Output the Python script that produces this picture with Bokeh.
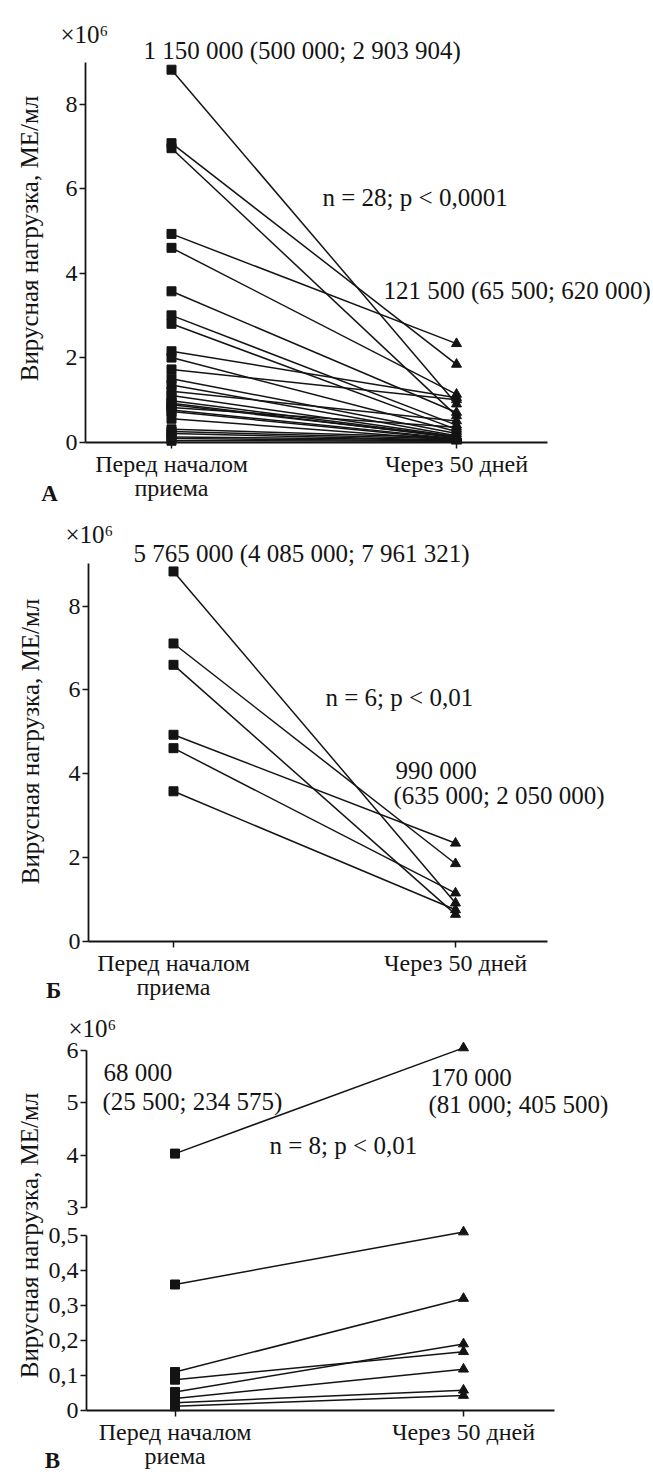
import math
from bokeh.plotting import figure
from bokeh.layouts import column
from bokeh.models import Label, FixedTicker, Range1d, CustomJSTickFormatter, LinearAxis
from bokeh.embed import file_html
from bokeh.resources import INLINE

FONT = "Liberation Serif"

# ---------------- data ----------------
cat_labels = ["Перед началом\nприема", "Через 50 дней"]
cat_labels_v = ["Перед началом\nриема", "Через 50 дней"]
y_title = "Вирусная нагрузка, МЕ/мл"
scale_note = "×10⁶"

# Panel А (n = 28), values x10^6 МЕ/мл
a_before = [8.82, 7.08, 6.96, 4.93, 4.60, 3.57, 3.00, 2.80, 2.15, 2.00, 1.72, 1.50, 1.35, 1.20,
            1.10, 0.98, 0.92, 0.88, 0.82, 0.76, 0.72, 0.55, 0.30, 0.25, 0.20, 0.12, 0.08, 0.03]
a_after = [0.90, 1.84, 0.62, 2.33, 1.13, 0.70, 0.40, 0.30, 1.05, 0.25, 1.00, 0.20, 0.15, 0.50,
           0.13, 0.12, 0.10, 0.12, 0.35, 0.08, 0.06, 0.05, 0.10, 0.07, 0.04, 0.05, 0.03, 0.02]
a_texts = ["1 150 000 (500 000; 2 903 904)", "n = 28; p < 0,0001", "121 500 (65 500; 620 000)"]

# Panel Б (n = 6)
b_before = [8.83, 7.11, 6.60, 4.93, 4.61, 3.58]
b_after = [0.91, 1.85, 0.64, 2.34, 1.15, 0.75]
b_texts = ["5 765 000 (4 085 000; 7 961 321)", "n = 6; p < 0,01", "990 000", "(635 000; 2 050 000)"]

# Panel В (n = 8) – upper (broken axis, x10^6 3..6) and lower (0..0.5) parts
v_before_hi = [4.03]
v_after_hi = [6.05]
v_before_lo = [0.36, 0.11, 0.088, 0.053, 0.034, 0.022, 0.012]
v_after_lo = [0.51, 0.32, 0.168, 0.19, 0.118, 0.058, 0.043]
v_texts = ["68 000", "(25 500; 234 575)", "170 000", "(81 000; 405 500)", "n = 8; p < 0,01"]

W = 653
INK = "#141414"


def style_axis(ax):
    ax.axis_line_color = INK
    ax.axis_line_width = 1.8
    ax.major_tick_out = 6
    ax.major_tick_in = 0
    ax.major_tick_line_width = 1.5
    ax.major_tick_line_color = INK
    ax.minor_tick_out = 0
    ax.minor_tick_in = 0
    ax.major_label_text_font = FONT
    ax.major_label_text_font_size = "24px"
    ax.major_label_text_color = INK
    ax.major_label_standoff = 2


def make_fig(height, xr, yr, xleft, xright, ybounds, yticks, xlabels):
    p = figure(width=W, height=height, x_range=Range1d(*xr), y_range=Range1d(*yr),
               output_backend="svg", toolbar_location=None, min_border=0)
    p.outline_line_color = None
    p.grid.visible = False
    p.background_fill_color = "white"
    p.border_fill_color = "white"
    yax = p.yaxis[0]
    style_axis(yax)
    yax.fixed_location = xleft
    yax.bounds = ybounds
    yax.ticker = FixedTicker(ticks=yticks)
    xax = p.xaxis[0]
    style_axis(xax)
    xax.fixed_location = 0
    xax.bounds = (xleft, xright)
    xax.ticker = FixedTicker(ticks=[0, 1])
    xax.major_label_overrides = {0: xlabels[0], 1: xlabels[1]}
    xax.major_label_text_line_height = 0.92
    xax.major_label_standoff = 3
    return p


def draw_pairs(p, before, after, rng="default"):
    n = len(before)
    p.segment(x0=[0] * n, y0=before, x1=[1] * n, y1=after, line_color=INK, line_width=1.5,
              y_range_name=rng)
    p.scatter(x=[0] * n, y=before, marker="square", size=9, fill_color=INK, line_color=INK,
              y_range_name=rng)
    p.scatter(x=[1] * n, y=after, marker="triangle", size=10, fill_color=INK, line_color=INK,
              y_range_name=rng)


def lab(p, x, y, text, size="25px", align="left", bold=False, angle=0.0, rng="default"):
    p.add_layout(Label(x=x, y=y, text=text, text_font=FONT, text_font_size=size,
                       text_align=align, text_baseline="middle", text_color=INK,
                       text_font_style="bold" if bold else "normal", angle=angle,
                       y_range_name=rng))


# ---------------- Panel А ----------------
pA = make_fig(512, (-0.6, 1.6912), (-1.6702, 10.4596), -0.3018, 1.3182,
              (0, 8.99), [0, 2, 4, 6, 8], cat_labels)
draw_pairs(pA, a_before, a_after)
lab(pA, -0.4982, 4.821, y_title, align="center", angle=math.pi / 2)
lab(pA, -0.3895, 9.654, scale_note)
lab(pA, -0.0982, 9.275, a_texts[0])
lab(pA, 0.5298, 5.793, a_texts[1])
lab(pA, 0.7439, 3.589, a_texts[2])
lab(pA, -0.4281, -1.22, "А", size="23px", align="center", bold=True)

# ---------------- Panel Б ----------------
pB = make_fig(493, (-0.6135, 1.7021), (-1.5355, 10.2376), -0.3014, 1.3262,
              (0, 9.02), [0, 2, 4, 6, 8], cat_labels)
draw_pairs(pB, b_before, b_after)
lab(pB, -0.5071, 4.769, y_title, align="center", angle=math.pi / 2)
lab(pB, -0.383, 9.706, scale_note)
lab(pB, -0.1418, 9.258, b_texts[0])
lab(pB, 0.539, 5.82, b_texts[1])
lab(pB, 0.7872, 4.076, b_texts[2])
lab(pB, 0.7801, 3.479, b_texts[3])
lab(pB, -0.4255, -1.177, "Б", size="23px", align="center", bold=True)

# ---------------- Panel В (broken y axis) ----------------
pV = make_fig(469, (-0.6049, 1.6586), (-0.1829, 1.1571), -0.3068, 1.3168,
              (0, 0.5), [0, 0.1, 0.2, 0.3, 0.4, 0.5], cat_labels_v)
pV.yaxis[0].formatter = CustomJSTickFormatter(
    code="return tick === 0 ? '0' : tick.toFixed(1).replace('.', ',');")
pV.extra_y_ranges = {"hi": Range1d(-2.102, 6.860)}
hi_axis = LinearAxis(y_range_name="hi", fixed_location=-0.3068, bounds=(3, 6),
                     ticker=FixedTicker(ticks=[3, 4, 5, 6]))
style_axis(hi_axis)
pV.add_layout(hi_axis, "left")
draw_pairs(pV, v_before_lo, v_after_lo)
draw_pairs(pV, v_before_hi, v_after_hi, rng="hi")
lab(pV, -0.5043, 0.5, y_title, align="center", angle=math.pi / 2)
lab(pV, -0.3692, 6.421, scale_note, rng="hi")
lab(pV, -0.2478, 5.580, v_texts[0], rng="hi")
lab(pV, -0.2513, 5.026, v_texts[1], rng="hi")
lab(pV, 0.8856, 5.484, v_texts[2], rng="hi")
lab(pV, 0.8787, 4.968, v_texts[3], rng="hi")
lab(pV, 0.3276, 4.185, v_texts[4], rng="hi")
lab(pV, -0.4246, -0.1429, "В", size="23px", align="center", bold=True)

layout = column(pA, pB, pV, spacing=0)
open("out.html", "w").write(file_html(layout, INLINE))
